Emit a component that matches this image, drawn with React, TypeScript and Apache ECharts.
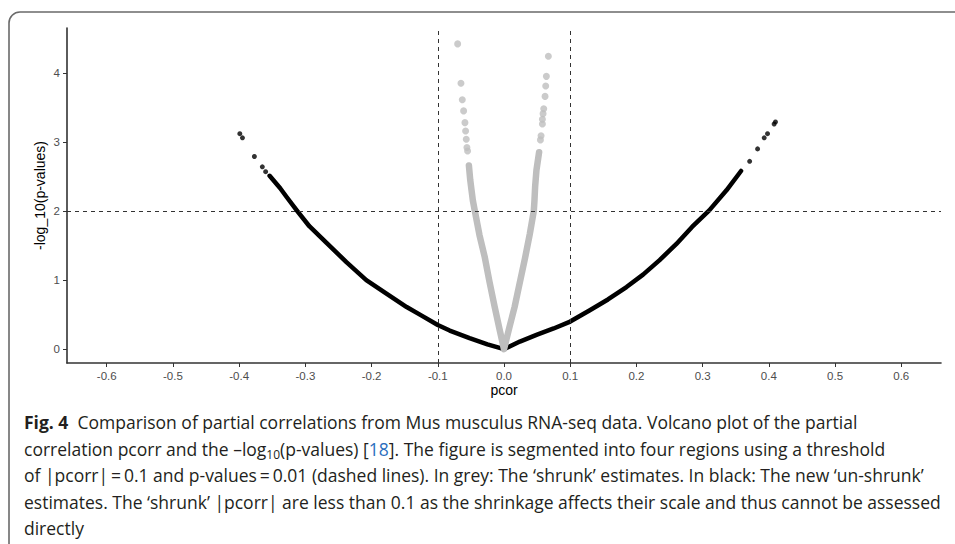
import React, { useEffect, useRef } from "react";
import * as echarts from "echarts";

// ---- data ----
const xTickValues = [-0.6, -0.5, -0.4, -0.3, -0.2, -0.1, 0, 0.1, 0.2, 0.3, 0.4, 0.5, 0.6];
const yTickValues = [0, 1, 2, 3, 4];
const thresholdPcor = [-0.1, 0.1];
const thresholdLogP = 2;

// black: new 'un-shrunk' estimates, dense part of the curve
const unshrunkDense: [number, number][] = [
  [-0.354, 2.51], [-0.346, 2.42], [-0.338, 2.33], [-0.328, 2.2], [-0.313, 2.01],
  [-0.294, 1.78], [-0.268, 1.54], [-0.238, 1.26], [-0.208, 1.0], [-0.177, 0.8],
  [-0.147, 0.61], [-0.127, 0.5], [-0.1, 0.35], [-0.082, 0.27], [-0.052, 0.16],
  [-0.025, 0.07], [0, 0.0], [0.024, 0.11], [0.05, 0.21], [0.075, 0.3],
  [0.1, 0.4], [0.129, 0.56], [0.157, 0.72], [0.185, 0.9], [0.21, 1.08],
  [0.235, 1.29], [0.26, 1.52], [0.284, 1.77], [0.31, 2.01], [0.336, 2.3], [0.358, 2.58],
];
// black: isolated points at the ends
const unshrunkSparse: [number, number][] = [
  [-0.399, 3.12], [-0.395, 3.06], [-0.377, 2.79], [-0.365, 2.64], [-0.36, 2.57],
  [0.371, 2.72], [0.383, 2.9], [0.393, 3.06], [0.398, 3.12], [0.408, 3.26], [0.41, 3.29],
];
// grey: 'shrunk' estimates, dense part
const shrunkDense: [number, number][] = [
  [-0.053, 2.66], [-0.051, 2.45], [-0.049, 2.3], [-0.047, 2.15], [-0.044, 2.0],
  [-0.037, 1.65], [-0.029, 1.33], [-0.022, 0.98], [-0.014, 0.61], [-0.007, 0.3],
  [0, 0.0], [0.008, 0.31], [0.016, 0.61], [0.024, 0.97], [0.032, 1.33],
  [0.039, 1.67], [0.045, 2.0], [0.046, 2.15], [0.047, 2.35], [0.049, 2.59], [0.053, 2.85],
];
// grey: isolated points
const shrunkSparse: [number, number][] = [
  [-0.055, 2.87], [-0.056, 2.92], [-0.057, 3.04], [-0.058, 3.16], [-0.059, 3.28],
  [-0.061, 3.45], [-0.063, 3.61], [-0.065, 3.85], [-0.07, 4.42],
  [0.055, 3.03], [0.056, 3.09], [0.058, 3.26], [0.058, 3.33], [0.059, 3.41],
  [0.06, 3.48], [0.062, 3.66], [0.063, 3.81], [0.064, 3.95], [0.067, 4.24],
];

const captionLines = [
  "{b|Fig. 4}  Comparison of partial correlations from Mus musculus RNA-seq data. Volcano plot of the partial",
  "correlation pcorr and the \u2013log{sub|10}(p-values) [{link|18}]. The figure is segmented into four regions using a threshold",
  "of |pcorr|\u2009=\u20090.1 and p-values\u2009=\u20090.01 (dashed lines). In grey: The \u2018shrunk\u2019 estimates. In black: The new \u2018un-shrunk\u2019",
  "estimates. The \u2018shrunk\u2019 |pcorr| are less than 0.1 as the shrinkage affects their scale and thus cannot be assessed",
  "directly",
];

export default function App() {
  const ref = useRef<HTMLDivElement>(null);
  useEffect(() => {
    document.body.style.margin = "0";
    if (!ref.current) return;
    const chart = echarts.init(ref.current, null, { renderer: "svg" });
    const axisFont = "Liberation Sans, Arial, sans-serif";
    const capFamily = "'Open Sans', sans-serif";
    const capSize = 17.5;
    const capLH = 24;
    const rich = {
      b: { fontWeight: "bold", fontSize: capSize, fontFamily: capFamily, fill: "#231f20", lineHeight: capLH },
      sub: { fontSize: 12, fontFamily: capFamily, fill: "#231f20", lineHeight: 14, verticalAlign: "bottom", padding: [7, 0, 0, 0] },
      link: { fontSize: capSize, fontFamily: capFamily, fill: "#2a6ebd", lineHeight: capLH },
    };
    const captionEls = captionLines.map((t, i) => ({
      type: "text",
      left: 24,
      top: 410 + i * 26.5,
      style: {
        text: t,
        font: `${capSize}px ${capFamily}`,
        fontSize: capSize,
        fontFamily: capFamily,
        fill: "#231f20",
        lineHeight: capLH,
        rich,
      },
    }));

    chart.setOption({
      animation: false,
      backgroundColor: "#ffffff",
      grid: { left: 67, right: 14, top: 28, bottom: 181, containLabel: false, outerBoundsMode: "none" },
      xAxis: {
        type: "value",
        min: -0.66,
        max: 0.66,
        name: "pcor",
        nameLocation: "middle",
        nameGap: 20,
        nameMoveOverlap: false,
        nameTextStyle: { color: "#000", fontSize: 14, fontFamily: axisFont },
        axisLine: { show: true, onZero: false, lineStyle: { color: "#333", width: 1.6 } },
        axisTick: { show: true, length: 4, customValues: xTickValues, lineStyle: { color: "#333", width: 1 } },
        axisLabel: {
          customValues: xTickValues,
          color: "#4d4d4d",
          fontSize: 11.5,
          fontFamily: axisFont,
          margin: 7,
          formatter: (v: number) => (Math.abs(v) < 1e-9 ? "0.0" : v.toFixed(1)),
        },
        splitLine: { show: false },
      },
      yAxis: {
        type: "value",
        min: -0.2,
        max: 4.65,
        name: "-log_10(p-values)",
        nameLocation: "middle",
        nameRotate: 90,
        nameGap: 20,
        nameMoveOverlap: false,
        nameTextStyle: { color: "#000", fontSize: 14, fontFamily: axisFont },
        axisLine: { show: true, onZero: false, lineStyle: { color: "#333", width: 1.6 } },
        axisTick: { show: true, length: 4, customValues: yTickValues, lineStyle: { color: "#333", width: 1 } },
        axisLabel: {
          customValues: yTickValues,
          color: "#4d4d4d",
          fontSize: 11.5,
          fontFamily: axisFont,
          margin: 7,
          formatter: (v: number) => String(Math.round(v)),
        },
        splitLine: { show: false },
      },
      series: [
        {
          name: "thresholds",
          type: "line",
          data: [],
          z: 1,
          markLine: {
            silent: true,
            symbol: "none",
            label: { show: false },
            lineStyle: { color: "#333", width: 1, type: [4, 4] },
            data: [
              ...thresholdPcor.map((v) => ({ xAxis: v })),
              { yAxis: thresholdLogP },
            ],
          },
        },
        {
          name: "un-shrunk",
          type: "line",
          data: unshrunkDense,
          showSymbol: false,
          symbol: "none",
          smooth: false,
          z: 3,
          lineStyle: { color: "#000", width: 4.5, cap: "round", join: "round" },
        },
        {
          name: "un-shrunk points",
          type: "scatter",
          data: unshrunkSparse,
          symbolSize: 5,
          z: 3,
          itemStyle: { color: "#000" },
        },
        {
          name: "shrunk",
          type: "line",
          data: shrunkDense,
          showSymbol: false,
          symbol: "none",
          z: 4,
          lineStyle: { color: "#bebebe", width: 6.5, cap: "round", join: "round" },
        },
        {
          name: "shrunk points",
          type: "scatter",
          data: shrunkSparse,
          symbolSize: 7,
          z: 4,
          itemStyle: { color: "#bebebe" },
        },
      ],
      graphic: [
        {
          type: "rect",
          shape: { x: 9, y: 12, width: 980, height: 580, r: 11 },
          style: { fill: "none", stroke: "#6a6a6a", lineWidth: 1.6 },
          silent: true,
          z: 0,
        },
        ...captionEls,
      ],
    });
    return () => chart.dispose();
  }, []);
  return (
    <div
      ref={ref}
      style={{ position: "absolute", left: 0, top: 0, width: 955, height: 544, background: "#fff" }}
    />
  );
}
